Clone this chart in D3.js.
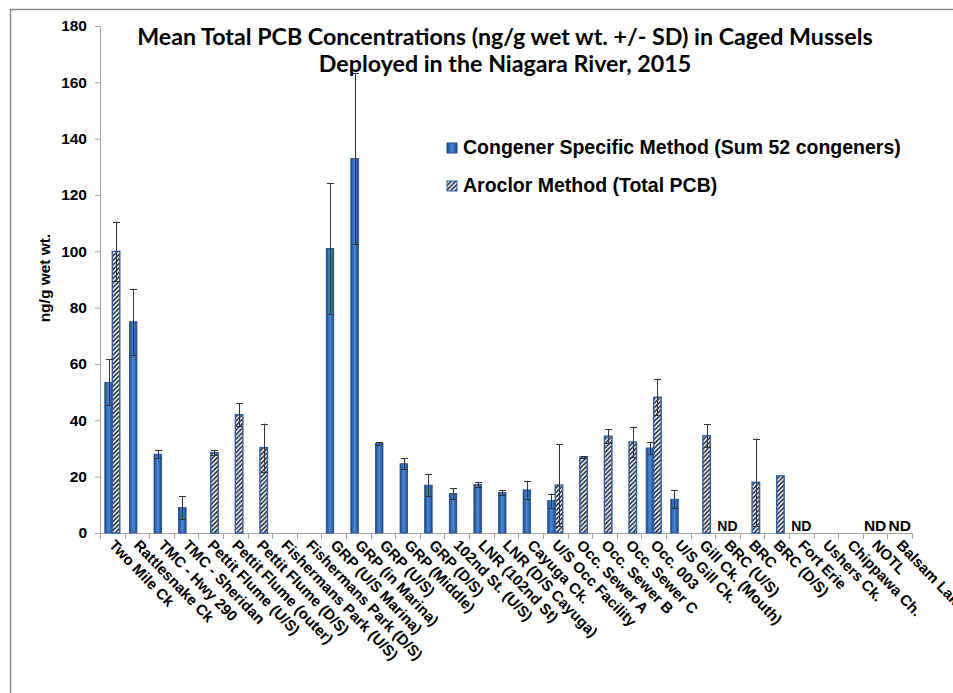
<!DOCTYPE html>
<html>
<head>
<meta charset="utf-8">
<script src="https://cdn.jsdelivr.net/npm/d3@7"></script>
<style>
  html, body { margin: 0; padding: 0; background: #fff; }
  svg { display: block; font-family: "Liberation Sans", Arial, sans-serif; }
</style>
</head>
<body>
<svg id="chart" width="953" height="693"></svg>
<script>
// sites along the x axis
const sites = [
  "Two Mile Ck", "Rattlesnake Ck", "TMC - Hwy 290", "TMC - Sheridan",
  "Pettit Flume (U/S)", "Pettit Flume (outer)", "Pettit Flume (D/S)",
  "Fishermans Park (U/S)", "Fishermans Park (D/S)", "GRP (U/S Marina)",
  "GRP (in Marina)", "GRP (U/S)", "GRP (Middle)", "GRP (D/S)",
  "102nd St. (U/S)", "LNR (102nd St)", "LNR (D/S Cayuga)", "Cayuga Ck.",
  "U/S Occ Facility", "Occ. Sewer A", "Occ. Sewer B", "Occ. Sewer C",
  "Occ. 003", "U/S Gill Ck.", "Gill Ck. (Mouth)", "BRC (U/S)", "BRC",
  "BRC (D/S)", "Fort Erie", "Ushers Ck.", "Chippawa Ch.", "NOTL", "Balsam Lake"
];

// congener specific method (sum 52 congeners), null = not measured
const congenerMean = [
  53.5, 75, 28, 9, null, null, null, null, null, 101,
  133, 31.8, 24.6, 17, 14, 17.2, 14.4, 15.3, 11.5, null,
  null, null, 30.2, 12, null, null, null, null, null, null,
  null, null, null
];
const congenerSD = [
  8.2, 11.7, 1.5, 4, null, null, null, null, null, 23.2,
  30.3, 0.4, 1.9, 4, 2, 1, 0.9, 3.3, 2.5, null,
  null, null, 2.2, 3.2, null, null, null, null, null, null,
  null, null, null
];

// aroclor method (total PCB)
const aroclorMean = [
  100, null, null, null, 28.5, 42, 30.3, null, null, null,
  null, null, null, null, null, null, null, null, 17, 27,
  34.4, 32.3, 48.2, null, 34.5, null, 18, 20.3, null, null,
  null, null, null
];
const aroclorSD = [
  10.5, null, null, null, 0.8, 4, 8.5, null, null, null,
  null, null, null, null, null, null, null, null, 14.5, 0.4,
  2.4, 5.3, 6.4, null, 4.1, null, 15.5, 0, null, null,
  null, null, null
];

// non-detect sites
const ndSites = ["BRC (U/S)", "Fort Erie", "NOTL", "Balsam Lake"];
const ndBig = ["NOTL", "Balsam Lake"];

const yTicks = [0, 20, 40, 60, 80, 100, 120, 140, 160, 180];
const seriesNames = ["Congener Specific Method (Sum 52 congeners)", "Aroclor Method (Total PCB)"];
const titleLines = [
  "Mean Total PCB Concentrations (ng/g wet wt. +/- SD) in Caged Mussels",
  "Deployed in the Niagara River, 2015"
];

const svg = d3.select("#chart");
const defs = svg.append("defs");

const grad = defs.append("linearGradient").attr("id", "blueGrad")
  .attr("x1", "0%").attr("x2", "100%").attr("y1", "0%").attr("y2", "0%");
[["0%", "#1b437a"], ["25%", "#336cb9"], ["50%", "#4a86d3"], ["75%", "#336cb9"], ["100%", "#1b437a"]]
  .forEach(([o, c]) => grad.append("stop").attr("offset", o).attr("stop-color", c));

const hatch = defs.append("pattern").attr("id", "hatch")
  .attr("patternUnits", "userSpaceOnUse").attr("width", 4.5).attr("height", 4.5);
hatch.append("rect").attr("width", 4.5).attr("height", 4.5).attr("fill", "#fff");
hatch.append("path").attr("d", "M-1,1 l2,-2 M0,4.5 l4.5,-4.5 M3.5,5.5 l2,-2")
  .attr("stroke", "#141e33").attr("stroke-width", 1.5);

// frame
svg.append("path").attr("d", "M10.5,693 V9.5 H953")
  .attr("fill", "none").attr("stroke", "#8a8a8a").attr("stroke-width", 1.5);

const x = d3.scaleBand().domain(sites).range([100, 912]).padding(0);
const y = d3.scaleLinear().domain([0, 180]).range([533, 26]);
const barW = x.bandwidth() * 0.305;

// y axis
const yAxis = svg.append("g").attr("transform", "translate(100,0)")
  .call(d3.axisLeft(y).tickValues(yTicks).tickSize(5).tickPadding(8));
yAxis.select(".domain").attr("stroke", "#a6a6a6");
yAxis.selectAll(".tick line").attr("stroke", "#a6a6a6");
yAxis.selectAll(".tick text").attr("font-size", 15.5).attr("font-weight", "bold")
  .attr("fill", "#000").attr("font-family", "Liberation Sans, Arial, sans-serif");

// x axis line and boundary ticks
const bounds = sites.map(s => x(s)).concat([x(sites[sites.length - 1]) + x.bandwidth()]);
svg.append("line").attr("x1", 100).attr("x2", 912).attr("y1", y(0) + 0.5).attr("y2", y(0) + 0.5)
  .attr("stroke", "#a6a6a6");
svg.append("g").selectAll("line").data(bounds).join("line")
  .attr("x1", d => Math.round(d) + 0.5).attr("x2", d => Math.round(d) + 0.5)
  .attr("y1", y(0)).attr("y2", y(0) + 6).attr("stroke", "#a6a6a6");

// x labels
svg.append("g").selectAll("text").data(sites).join("text")
  .attr("transform", d => `translate(${x(d) + x.bandwidth() / 2 - 4},${y(0) + 13}) rotate(46)`)
  .attr("font-size", 15).attr("font-weight", "bold").attr("fill", "#000")
  .text(d => d);

// bars
const rows = sites.map((s, i) => ({
  site: s, c: congenerMean[i], cs: congenerSD[i], a: aroclorMean[i], as: aroclorSD[i]
}));

const cRows = rows.filter(d => d.c != null);
const aRows = rows.filter(d => d.a != null);
const cx = d => x(d.site) + x.bandwidth() / 2 - barW;
const ax = d => x(d.site) + x.bandwidth() / 2;

svg.append("g").selectAll("rect").data(cRows).join("rect")
  .attr("x", cx).attr("width", barW)
  .attr("y", d => y(d.c)).attr("height", d => y(0) - y(d.c))
  .attr("fill", "url(#blueGrad)").attr("stroke", "#1f4a86").attr("stroke-width", 0.8);

svg.append("g").selectAll("rect").data(aRows).join("rect")
  .attr("x", ax).attr("width", barW)
  .attr("y", d => y(d.a)).attr("height", d => y(0) - y(d.a))
  .attr("fill", "url(#hatch)").attr("stroke", "#2f5e9f").attr("stroke-width", 1.4);

// error bars
function errBars(data, mid, mean, sd) {
  const g = svg.append("g").attr("stroke", "#333").attr("stroke-width", 1);
  const list = data.filter(d => sd(d) > 0);
  g.selectAll("line.v").data(list).join("line")
    .attr("x1", d => Math.round(mid(d)) + 0.5).attr("x2", d => Math.round(mid(d)) + 0.5)
    .attr("y1", d => y(mean(d) + sd(d))).attr("y2", d => y(Math.max(0, mean(d) - sd(d))));
  [1, -1].forEach(k => {
    g.selectAll("line.c" + k).data(list).join("line")
      .attr("x1", d => Math.round(mid(d)) - 3).attr("x2", d => Math.round(mid(d)) + 4)
      .attr("y1", d => Math.round(y(mean(d) + k * sd(d))) + 0.5)
      .attr("y2", d => Math.round(y(mean(d) + k * sd(d))) + 0.5);
  });
}
errBars(cRows, d => cx(d) + barW / 2, d => d.c, d => d.cs);
errBars(aRows, d => ax(d) + barW / 2, d => d.a, d => d.as);

// ND labels
svg.append("g").selectAll("text").data(ndSites).join("text")
  .attr("x", d => x(d) + x.bandwidth() / 2).attr("y", y(0) - 2)
  .attr("text-anchor", "middle").attr("font-weight", "bold")
  .attr("font-size", d => ndBig.includes(d) ? 15.5 : 14).attr("fill", "#000")
  .text("ND");

// y label
svg.append("text").attr("transform", "translate(50,278) rotate(-90)")
  .attr("text-anchor", "middle").attr("font-size", 15.5).attr("font-weight", "bold")
  .text("ng/g wet wt.");

// title
const title = svg.append("g").attr("font-family", "Lato, 'Open Sans', sans-serif")
  .attr("font-weight", "bold").attr("text-anchor", "middle");
titleLines.forEach((t, i) => {
  title.append("text").attr("x", 505).attr("y", 45 + i * 27).attr("font-size", 21).text(t);
});
const t0 = title.select("text").node();
const fitSize = 21 * 736 / t0.getComputedTextLength();
title.selectAll("text").attr("font-size", fitSize);

// legend
const legend = svg.append("g").attr("transform", "translate(447,143)");
seriesNames.forEach((name, i) => {
  const row = legend.append("g").attr("transform", `translate(0,${i * 38})`);
  row.append("rect").attr("width", 10).attr("height", 10)
    .attr("fill", i === 0 ? "url(#blueGrad)" : "url(#hatch)")
    .attr("stroke", i === 0 ? "#1f4a86" : "#2f5e9f").attr("stroke-width", 1);
  row.append("text").attr("x", 16).attr("y", 11).attr("font-size", 19.5)
    .attr("font-weight", "bold").text(name);
});
</script>
</body>
</html>
